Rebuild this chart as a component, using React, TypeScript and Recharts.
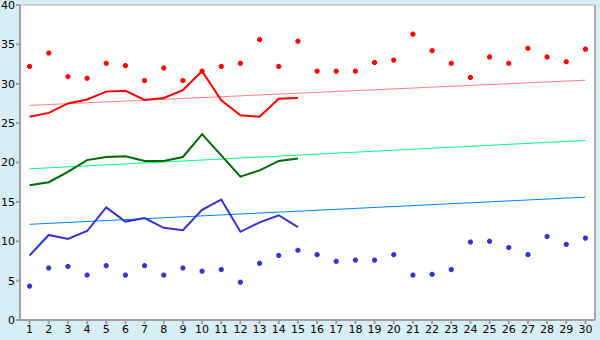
import { ComposedChart, Line, XAxis, YAxis, CartesianGrid } from 'recharts';

const days = Array.from({ length: 30 }, (_, i) => i + 1);

const redPoints = [
  32.2, 33.9, 30.9, 30.7, 32.6, 32.3, 30.4, 32.0, 30.4, 31.6,
  32.2, 32.6, 35.6, 32.2, 35.4, 31.6, 31.6, 31.6, 32.7, 33.0,
  36.3, 34.2, 32.6, 30.8, 33.4, 32.6, 34.5, 33.4, 32.8, 34.4,
];
const bluePoints = [
  4.3, 6.6, 6.8, 5.7, 6.9, 5.7, 6.9, 5.7, 6.6, 6.2,
  6.4, 4.8, 7.2, 8.2, 8.85, 8.3, 7.45, 7.6, 7.6, 8.3,
  5.7, 5.8, 6.4, 9.9, 10.0, 9.2, 8.3, 10.6, 9.6, 10.4,
];
const redLine = [25.8, 26.3, 27.5, 28.0, 29.0, 29.1, 27.95, 28.2, 29.2, 31.6, 27.9, 26.0, 25.8, 28.1, 28.2];
const greenLine = [17.1, 17.5, 18.8, 20.3, 20.7, 20.8, 20.2, 20.2, 20.7, 23.6, 20.9, 18.2, 19.0, 20.2, 20.5];
const blueLine = [8.2, 10.8, 10.3, 11.3, 14.3, 12.5, 12.95, 11.7, 11.4, 14.0, 15.3, 11.2, 12.4, 13.3, 11.8];

// trend lines: value at first day, value at last day
const redTrend = [27.25, 30.45];
const greenTrend = [19.2, 22.8];
const blueTrend = [12.15, 15.6];

const yTicks = [0, 5, 10, 15, 20, 25, 30, 35, 40];

const data = days.map((d, i) => ({
  day: d,
  hi: redPoints[i],
  lo: bluePoints[i],
  red: redLine[i] ?? null,
  green: greenLine[i] ?? null,
  blue: blueLine[i] ?? null,
  redT: i === 0 ? redTrend[0] : i === days.length - 1 ? redTrend[1] : null,
  greenT: i === 0 ? greenTrend[0] : i === days.length - 1 ? greenTrend[1] : null,
  blueT: i === 0 ? blueTrend[0] : i === days.length - 1 ? blueTrend[1] : null,
}));

const marker = (color: string) => (props: any) => {
  const { cx, cy, index } = props;
  if (cx == null || cy == null) return <g key={index} />;
  return (
    <g key={index} fill={color}>
      <rect x={cx - 2.5} y={cy - 1.5} width={5} height={3} />
      <rect x={cx - 1.5} y={cy - 2.5} width={3} height={5} />
    </g>
  );
};

const tickStyle = { fontFamily: 'DejaVu Sans', fontSize: 11, fill: '#000' };

export default function App() {
  return (
    <div style={{ position: 'absolute', left: 0, top: 0, width: 600, height: 340, backgroundColor: '#d8eef5' }}>
      <ComposedChart
        width={600}
        height={340}
        data={data}
        margin={{ top: 5, right: 0, bottom: 0, left: 0 }}
        style={{ backgroundColor: '#d8eef5' }}
      >
        <CartesianGrid vertical={false} stroke="#b0b0b0" fill="#fff" fillOpacity={1} />
        <XAxis
          dataKey="day"
          type="category"
          scale="band"
          height={20}
          tick={tickStyle}
          tickSize={4}
          tickMargin={1}
          interval={0}
          stroke="#a0a0a0"
          strokeWidth={2}
        />
        <YAxis
          yAxisId="l"
          domain={[0, 40]}
          ticks={yTicks}
          width={20}
          tick={tickStyle}
          tickSize={4}
          tickMargin={1}
          stroke="#a0a0a0"
          strokeWidth={2}
          interval={0}
        />
        <YAxis yAxisId="r" orientation="right" domain={[0, 40]} ticks={yTicks} width={5} tick={false} tickLine={false} stroke="#a8a8a8" strokeWidth={2} />
        <Line yAxisId="l" dataKey="redT" stroke="#ff8080" strokeWidth={1} dot={false} connectNulls isAnimationActive={false} />
        <Line yAxisId="l" dataKey="greenT" stroke="#00ff80" strokeWidth={1} dot={false} connectNulls isAnimationActive={false} />
        <Line yAxisId="l" dataKey="blueT" stroke="#0080ff" strokeWidth={1} dot={false} connectNulls isAnimationActive={false} />
        <Line yAxisId="l" dataKey="red" stroke="#ff0000" strokeWidth={2} dot={false} isAnimationActive={false} />
        <Line yAxisId="l" dataKey="green" stroke="#006600" strokeWidth={2} dot={false} isAnimationActive={false} />
        <Line yAxisId="l" dataKey="blue" stroke="#3333cc" strokeWidth={2} dot={false} isAnimationActive={false} />
        <Line yAxisId="l" dataKey="hi" stroke="none" dot={marker('#ff0000')} activeDot={false} isAnimationActive={false} />
        <Line yAxisId="l" dataKey="lo" stroke="none" dot={marker('#3333cc')} activeDot={false} isAnimationActive={false} />
      </ComposedChart>
    </div>
  );
}
